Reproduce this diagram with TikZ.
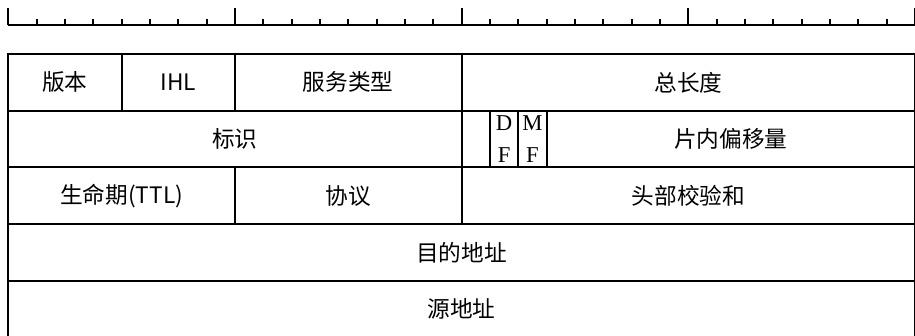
\documentclass[tikz,border=0pt]{standalone}
\usepackage{fontspec}
\setmainfont{Noto Sans CJK SC}
\newfontfamily\bitfont{Liberation Serif}
\usetikzlibrary{positioning}

\begin{document}
\begin{tikzpicture}[
    x=21.25pt, y=-21.25pt,
    font=\fontsize{17}{20}\selectfont,
    node distance=0pt,
    field/.style={draw=black, line width=1.5pt, inner sep=0pt, outer sep=0pt,
      minimum height=42.5pt, anchor=north west},
    bits/.style={minimum width=#1*21.25pt},
    flag/.style={field, bits=1, align=center,
      font=\bitfont\fontsize{17}{23.6}\selectfont},
    rule/.style={line width=1.5pt},
    tick/.style={line width=1.3pt},
  ]
    \useasboundingbox (-0.293,0) rectangle (32,11.84);

    % bit ruler
    \draw[rule] (0,0.882) coordinate (r0) -- (32,0.882) coordinate (r32);
    \foreach \b in {0,...,32} {
      \pgfmathtruncatemacro{\major}{mod(\b,8)==0}
      \ifnum\major=1
        \draw[tick] (\b,0.882) -- (\b,0.265);
      \else
        \draw[tick] (\b,0.882) -- (\b,0.653);
      \fi
    }

    % row 1
    \node[field, bits=4] (ver) at (0,1.906) {版本};
    \node[field, bits=4, right=of ver] (ihl) {IHL};
    \node[field, bits=8, right=of ihl] (tos) {服务类型};
    \node[field, bits=16, right=of tos] (len) {总长度};

    % row 2
    \node[field, bits=16] (ident) at (0,3.906) {标识};
    \node[field, bits=1, right=of ident] (rsv) {};
    \node[flag, right=of rsv] (df) {D\\F};
    \node[flag, right=of df] (mf) {M\\F};
    \node[field, bits=13, right=of mf] (offset) {片内偏移量};

    % row 3
    \node[field, bits=8] (ttl) at (0,5.906) {生命期(TTL)};
    \node[field, bits=8, right=of ttl] (proto) {协议};
    \node[field, bits=16, right=of proto] (csum) {头部校验和};

    % rows 4 and 5
    \node[field, bits=32] (dst) at (0,7.906) {目的地址};
    \node[field, bits=32] (src) at (0,9.906) {源地址};
\end{tikzpicture}
\end{document}
